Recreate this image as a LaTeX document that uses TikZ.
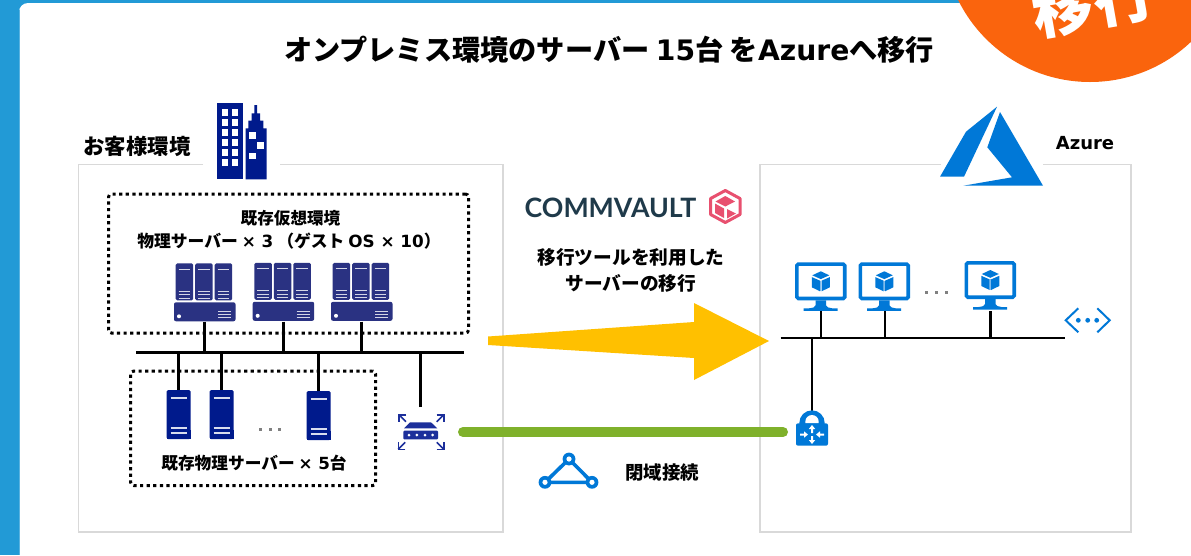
\documentclass[tikz,border=0pt]{standalone}
\usepackage{fontspec}
\setmainfont{Noto Sans CJK JP}
\newfontfamily\latinfont{DejaVu Sans}
\newfontfamily\vaultfont{Lato}
\newcommand\lat[1]{{\latinfont #1}}
\newcommand\fsz[1]{\fontsize{#1}{#1}\selectfont}
\definecolor{bgblue}{HTML}{229AD6}
\definecolor{circ}{HTML}{FA640D}
\definecolor{navy}{HTML}{001A8C}
\definecolor{slate}{HTML}{2A3282}
\definecolor{az}{HTML}{0078D7}
\definecolor{boxgray}{HTML}{D9D9D9}
\definecolor{routerblue}{HTML}{1C2F9B}
\definecolor{pinkv}{HTML}{E8506F}
\definecolor{vaultink}{HTML}{1F3A4A}
\definecolor{linkgreen}{HTML}{7FB12B}
\definecolor{arrowyellow}{HTML}{FFC000}
\tikzset{
  x=1pt,y=-1pt,
  txt/.style={inner sep=0,outer sep=0,text=black,font=\bfseries\fsz{#1},align=center},
  dotbox/.style={draw=black,line width=3pt,dash pattern=on 3.2pt off 3.4pt,rounded corners=3pt},
  frame/.style={draw=boxgray,line width=1.3pt},
  wire/.style={draw=black,line width=3pt},
  thinwire/.style={draw=black,line width=2.6pt},
  anchorbox/.style={inner sep=0,outer sep=0,minimum width=#1,minimum height=1pt},
  tower/.pic={
    \fill[navy,rounded corners=1.5pt] (0,0) rectangle (24,49);
    \fill[navy] (0,40) rectangle (24,49);
    \draw[white!85!navy,line width=1.6pt] (4,8)--(20,8) (4,38)--(20,38) (4,43)--(20,43);
  },
  blade/.pic={
    \fill[slate,rounded corners=1.5pt] (0,0) rectangle (17.5,37);
    \draw[white!80!slate,line width=1.2pt] (3,6)--(14.5,6) (3,28)--(14.5,28) (3,31.5)--(14.5,31.5) (3,35)--(14.5,35);
  },
  bladeset/.pic={
    \path (1.7,0) pic {blade} (21.2,0) pic {blade} (40.7,0) pic {blade};
    \fill[slate,rounded corners=2pt] (0,39) rectangle (61.5,58);
    \fill[white] (5,53) circle (2);
    \draw[white!80!slate,line width=1.1pt] (44,48.5)--(57,48.5) (44,51.5)--(57,51.5) (44,54.5)--(57,54.5);
  },
  cube/.pic={
    \fill[az] (0,-10)--(8.5,-6)--(0,-2.2)--(-8.5,-6)--cycle;
    \fill[az] (-9,-4.2)--(-0.7,-0.6)--(-0.7,10)--(-9,6)--cycle;
    \fill[az] (9,-4.2)--(0.7,-0.6)--(0.7,10)--(9,6)--cycle;
    \draw[az!50!white,line width=0.8pt] (0,-0.6)--(0,10);
  },
  monitor/.pic={
    \draw[az,line width=3.6pt,rounded corners=1.5pt] (1.8,1.8) rectangle (49.7,36.2);
    \fill[az] (20.5,38)--(31,38)--(31,43) .. controls (31,45) and (34,45.5) .. (37,46)--(42.5,46)--(42.5,48.5)--(8.5,48.5)--(8.5,46)--(14,46) .. controls (18,45.5) and (20.5,45) .. (20.5,43)--cycle;
    \path (25.8,19) pic {cube};
  },
  routerarrow/.pic={
    \draw[routerblue,line width=1.6pt] (0,0)--(7,-7);
    \draw[routerblue,line width=1.6pt] (0,-7)--(7,-7)--(7,0);
  },
  lockarrow/.pic={
    \fill[white] (0,-1)--(4,-1)--(4,-3.2)--(8,0)--(4,3.2)--(4,1)--(0,1)--cycle;
  },
}
\begin{document}
\begin{tikzpicture}
\useasboundingbox (0,0) rectangle (1191,555);
\begin{scope}
\clip (0,0) rectangle (1191,555);
% page
\fill[bgblue] (0,0) rectangle (1191,555);
\fill[white,rounded corners=9pt] (19,3) rectangle (1230,600);
\fill[white] (1100,0) rectangle (1191,3);
\fill[white!25!bgblue] (19,10) rectangle (19.6,555);
% corner badge
\fill[circ] (1090,-65) circle (147);
\node[rotate=10,inner sep=0,text=white,font=\bfseries\fsz{61}] (badge) at (1093,2) {移行};
\end{scope}

\node[txt=28.2] (title) at (609,50) {オンプレミス環境のサーバー \lat{15}台 を\lat{Azure}へ移行};

% frames
\coordinate (lf1) at (203,164.5);
\coordinate (lf2) at (280,164.5);
\coordinate (lf3) at (503,532);
\coordinate (lf4) at (78.5,532);
\draw[frame] (lf1) -- (78.5,164.5) -- (lf4) -- (lf3) -- (503,164.5) -- (lf2);
\coordinate (rf1) at (941,164.5);
\coordinate (rf2) at (1043,164.5);
\coordinate (rf3) at (1131,532);
\coordinate (rf4) at (760,532);
\draw[frame] (rf1) -- (760,164.5) -- (rf4) -- (rf3) -- (1131,164.5) -- (rf2);

\node[txt=21.4] (customer) at (137,146) {お客様環境};
\node[txt=18,font=\latinfont\bfseries\fsz{18}] (azure) at (1085,143) {Azure};

% building
\fill[navy] (217.3,103.3) rectangle (242.7,179.3);
\foreach \r in {0,...,5} {
  \fill[white] (221.7,109+10*\r) rectangle (228.3,115.5+10*\r);
  \fill[white] (231.7,109+10*\r) rectangle (238.3,115.5+10*\r);
}
\fill[navy] (245.7,179.3) -- (245.7,128.3) -- (248.3,128.3) -- (248.3,120.7) -- (251.7,120.7) -- (251.7,113.3) -- (254.3,113.3) -- (254.3,105) -- (257,105) -- (257,113.3) -- (260,113.3) -- (260,120.7) -- (263.3,120.7) -- (263.3,128.3) -- (266.7,128.3) -- (266.7,179.3) -- cycle;
\fill[white] (249.3,132.3) rectangle (256,139);
\fill[white] (257,142.3) rectangle (263.7,149);
\fill[white] (249.3,152.7) rectangle (256,159.3);

% azure logo
\fill[az] (997,106.7) -- (966,131.7) -- (940,176.7) -- (964,176.7) -- cycle;
\fill[az] (1000,112) -- (987.3,147.3) -- (1012,177.3) -- (963.3,185.7) -- (1043,185.7) -- cycle;

% dotted boxes
\node[dotbox,inner sep=0,minimum width=360pt,minimum height=139pt] (virt) at (288.5,263.5) {};
\node[dotbox,inner sep=0,minimum width=245pt,minimum height=114.5pt] (phys) at (253.2,428.3) {};

\node[txt=16.6] (virtname) at (290.5,218) {既存仮想環境};
\node[txt=16.8] (virtcount) at (289,241.5) {物理サーバー \lat{× 3} （ゲスト \lat{OS × 10}）};
\node[txt=16.7] (physcount) at (254,463) {既存物理サーバー \lat{× 5}台};

% virtual servers
\path (174,263.3) pic {bladeset};
\path (252.7,262.8) pic {bladeset};
\path (331,262.8) pic {bladeset};
\node[anchorbox=60pt] (vs1) at (204,321.5) {};
\node[anchorbox=60pt] (vs2) at (283,321.5) {};
\node[anchorbox=60pt] (vs3) at (361,321.5) {};

% left bus
\coordinate (busL) at (136,352);
\coordinate (busR) at (464,352);
\draw[wire] (busL) -- (busR);
\draw[wire] (vs1.center) -- (vs1.center |- busL);
\draw[wire] (vs2.center) -- (vs2.center |- busL);
\draw[wire] (vs3.center) -- (vs3.center |- busL);

% physical servers
\path (166.7,390) pic {tower};
\path (209.7,390) pic {tower};
\path (306.7,391) pic {tower};
\node[anchorbox=24pt] (pm1) at (178.5,390) {};
\node[anchorbox=24pt] (pm2) at (221.5,390) {};
\node[anchorbox=24pt] (pm3) at (318.5,391) {};
\draw[wire] (pm1.center) -- (pm1.center |- busL);
\draw[wire] (pm2.center) -- (pm2.center |- busL);
\draw[wire] (pm3.center) -- (pm3.center |- busL);
\foreach \x in {260,270,279.5} \fill[gray] (\x-1.5,428.2) rectangle (\x+1.5,431.2);

% router
\node[anchorbox=40pt] (router) at (420,407) {};
\draw[wire] (router.center) -- (router.center |- busL);
\fill[routerblue] (404,428.3) -- (410,422.3) -- (431,422.3) -- (437.3,428.3) -- cycle;
\fill[routerblue,rounded corners=1pt] (403.3,430.7) rectangle (438,439.3);
\foreach \x in {409,416.9,425,432.7} \fill[white] (\x,435) circle (1.5);
\path (436.7,421.7) pic {routerarrow};
\path (406,421.7) pic[xscale=-1] {routerarrow};
\path (436.7,442.3) pic[yscale=-1] {routerarrow};
\path (405.3,442.3) pic[xscale=-1,yscale=-1] {routerarrow};

% arrows between environments
\coordinate (gL) at (463,432);
\coordinate (gR) at (783,432);
\draw[linkgreen,line width=10pt,line cap=round] (gL) -- (gR);
\fill[arrowyellow] (488,336.5) -- (694,322) -- (694,303) -- (769,341) -- (694,380) -- (694,358) -- (488,345) -- cycle;

% commvault logo
\node[inner sep=0,text=vaultink,font=\vaultfont\bfseries\fsz{26.7}] (vault) at (610.5,207.5) {COMMVAULT};
\draw[pinkv,line width=3pt,line join=round] (725.3,190.5) -- (740,198.5) -- (740,214.5) -- (725.3,222.5) -- (710.6,214.5) -- (710.6,198.5) -- cycle;
\fill[pinkv] (725.3,196) -- (735,201.5) -- (725.3,206.5) -- (715.5,201.5) -- cycle;
\fill[pinkv] (715,203.5) -- (724,208.5) -- (724,218) -- (715,213) -- cycle;
\fill[pinkv] (727,209) -- (736,213.5) -- (727,218.5) -- cycle;

\node[txt=18.7] (tool) at (631,272.5) {\begin{tabular}{@{}c@{}}移行ツールを利用した\\[4.5pt]サーバーの移行\end{tabular}};
\node[txt=18.4] (closed) at (662,473) {閉域接続};

% triangle icon
\coordinate (triA) at (569,459);
\coordinate (triB) at (545,482.3);
\coordinate (triC) at (592,482.3);
\draw[az,line width=3.6pt] (triA) -- (triB) -- (triC) -- cycle;
\foreach \p in {triA,triB,triC} {
  \fill[az] (\p) circle (6.4);
  \fill[white] (\p) circle (2.6);
}

% azure monitors
\path (795,262.3) pic {monitor};
\path (858.5,262.3) pic {monitor};
\path (964.5,261) pic {monitor};
\node[anchorbox=50pt] (vm1) at (821,311) {};
\node[anchorbox=50pt] (vm2) at (885,311) {};
\node[anchorbox=50pt] (vm3) at (990.5,311) {};
\foreach \x in {926.7,936.7,946.7} \fill[gray] (\x-1.5,291.2) rectangle (\x+1.5,294.2);

\coordinate (abusL) at (780.5,338);
\coordinate (abusR) at (1065,338);
\draw[thinwire] (abusL) -- (abusR);
\draw[thinwire] (vm1.center) -- (vm1.center |- abusL);
\draw[thinwire] (vm2.center) -- (vm2.center |- abusL);
\draw[thinwire] (vm3.center) -- (vm3.center |- abusL);

% lock
\node[anchorbox=32pt] (lock) at (812,411) {};
\draw[thinwire] (lock.center) -- (lock.center |- abusL);
\fill[az] (799.3,425) -- (799.3,423) arc[start angle=180,end angle=360,radius=12.7] -- (824.7,425) -- cycle;
\fill[white] (805.3,423.3) -- (805.3,421.7) arc[start angle=180,end angle=360,radius=6.7] -- (818.7,423.3) -- cycle;
\fill[az,rounded corners=2pt] (796,423.3) rectangle (828,445.7);
\path (800,434.5) pic {lockarrow};
\path (824,434.5) pic[xscale=-1] {lockarrow};
\path (812,433) pic[rotate=90] {lockarrow};
\path (812,436) pic[rotate=-90] {lockarrow};

% vnet icon
\draw[az,line width=2pt] (1078.3,308.3) -- (1065.7,320.3) -- (1078.3,332.3);
\draw[az,line width=2pt] (1097.3,308.3) -- (1109.7,320.3) -- (1097.3,332.3);
\foreach \x in {1078.3,1087.7,1096.7} \fill[az] (\x,320.3) circle (2.4);
\end{tikzpicture}
\end{document}
